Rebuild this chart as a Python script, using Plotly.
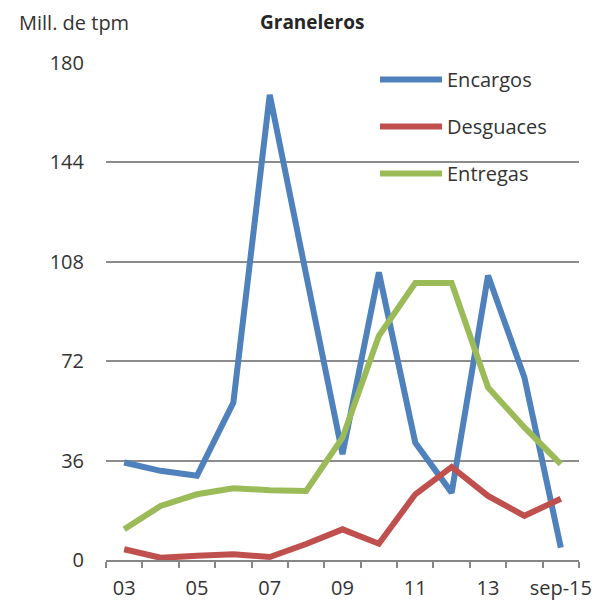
import plotly.graph_objects as go

categories = ["03", "04", "05", "06", "07", "08", "09", "10", "11", "12", "13", "14", "sep-15"]
encargos = [35.3, 32.3, 30.5, 57, 168.5, 104, 38.3, 104.2, 42.5, 24.4, 103, 66.1, 4.5]
desguaces = [3.9, 0.8, 1.5, 2.1, 1.1, 5.8, 11.1, 5.9, 23.8, 33.7, 23.2, 16, 22.2]
entregas = [11.1, 19.6, 23.8, 26, 25.3, 25, 44.3, 81.2, 100.3, 100.3, 62.5, 48, 34.7]
tick_labels = [c if i % 2 == 0 else "" for i, c in enumerate(categories)]
y_ticks = [0, 36, 72, 108, 144, 180]

# figure is placed at page offset (8, 8) by the default body margin
W, H = 600, 592
L, R, T, B = 98, 29, 55, 40
FONT = "Open Sans"

series = [
    ("Encargos", encargos, "#4F81BD"),
    ("Desguaces", desguaces, "#C0504D"),
    ("Entregas", entregas, "#9BBB59"),
]

fig = go.Figure()
for name, vals, col in series:
    fig.add_trace(go.Scatter(
        x=categories, y=vals, name=name, mode="lines",
        line=dict(color=col, width=6, shape="linear"),
        legendgroup=name,
    ))

def px_x(p):
    return (p - L) / (W - L - R)

def px_y(p):
    return 1 - (p - T) / (H - T - B)

fig.update_layout(
    width=W, height=H,
    margin=dict(l=L, r=R, t=T, b=B, autoexpand=False),
    paper_bgcolor="white", plot_bgcolor="white",
    font=dict(family=FONT, size=20, color="#333333"),
    showlegend=True,
    legend=dict(
        x=px_x(367), y=px_y(52), xanchor="left", yanchor="top",
        bgcolor="rgba(0,0,0,0)", font=dict(size=20, color="#333333"),
        itemwidth=62, tracegroupgap=18, traceorder="grouped",
    ),
    xaxis=dict(
        type="category", tickmode="array", tickvals=categories, ticktext=tick_labels,
        range=[-0.5, len(categories) - 0.5],
        tickson="boundaries", ticks="outside", ticklen=6, tickcolor="#868686", tickwidth=1.5,
        showline=True, linecolor="#868686", linewidth=1.5, tickangle=0, automargin=False,
        showgrid=False, zeroline=False, fixedrange=True, ticklabelstandoff=9,
        tickfont=dict(size=20),
    ),
    yaxis=dict(
        range=[0, 180], tickmode="array", tickvals=y_ticks, automargin=False,
        showgrid=True, gridcolor="#8C8C8C", gridwidth=1.5,
        showline=False, zeroline=False, ticks="", ticklabelstandoff=21,
        tickfont=dict(size=20),
    ),
    annotations=[
        dict(text="Mill. de tpm", xref="paper", yref="paper", x=px_x(10), y=px_y(0),
             xanchor="left", yanchor="top", showarrow=False, borderpad=0,
             font=dict(size=20, color="#333333")),
        dict(text="<b>Graneleros</b>", xref="paper", yref="paper", x=px_x(304), y=px_y(0),
             xanchor="center", yanchor="top", showarrow=False, borderpad=0,
             font=dict(size=19, color="#262626")),
    ],
)

fig.write_html("out.html")
